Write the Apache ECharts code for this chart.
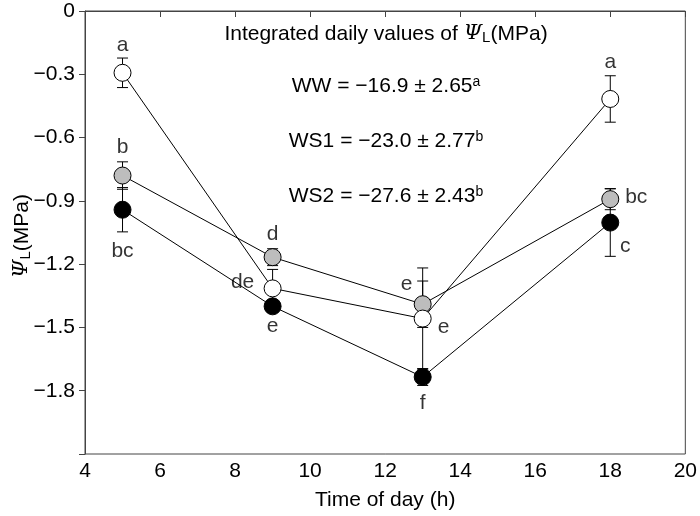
<!DOCTYPE html>
<html><head><meta charset="utf-8">
<script src="https://cdn.jsdelivr.net/npm/echarts@6/dist/echarts.min.js"></script>
<style>html,body{margin:0;padding:0;background:#fff}#c{width:700px;height:516px}</style>
</head><body><div id="c"></div>
<script>
// ---- data ----
const hours = [5, 9, 13, 18];
const wwMean = [-0.293, -1.315, -1.458, -0.417];
const wwSE = [0.07, 0.09, 0.24, 0.11];
const ws1Mean = [-0.78, -1.167, -1.39, -0.892];
const ws1SE = [0.065, 0.04, 0.11, 0.05];
const ws2Mean = [-0.942, -1.40, -1.735, -1.003];
const ws2SE = [0.105, 0.02, 0.04, 0.16];
const wwLetters = ['a', 'de', 'e', 'a'];
const ws1Letters = ['b', 'd', 'e', 'bc'];
const ws2Letters = ['bc', 'e', 'f', 'c'];
const xTicks = [4, 6, 8, 10, 12, 14, 16, 18, 20];
const yTicks = [0, -0.3, -0.6, -0.9, -1.2, -1.5, -1.8, -2.1];
const integrated = [['WW', '\u221216.9', '2.65', 'a'], ['WS1', '\u221223.0', '2.77', 'b'], ['WS2', '\u221227.6', '2.43', 'b']];

// ---- label placement (pixel offsets from marker centre) ----
const wwOff = [[0, -28], [-30, -6], [21, 9], [0, -37]];
const ws1Off = [[0, -28], [0, -23], [-16, -20], [26, -2]];
const ws2Off = [[0, 41], [0, 20], [0, 26], [15, 24]];

const FONT = 'Liberation Sans, Arial, sans-serif';
const FS = 21;
const chart = echarts.init(document.getElementById('c'));

function pts(m) { return hours.map((h, i) => [h, m[i]]); }
function errs(m, se) { return hours.map((h, i) => [h, m[i] - se[i], m[i] + se[i]]); }
function letters(m, L, off) {
  return hours.map((h, i) => ({
    value: [h, m[i]],
    label: { formatter: L[i], offset: off[i] }
  }));
}
function fmt(v) {
  const r = Math.round(v * 10) / 10;
  if (r === 0) return '0';
  return (r < 0 ? '\u2212' : '') + Math.abs(r).toFixed(1);
}
function errSeries(m, se) {
  return {
    type: 'custom', z: 2, silent: true,
    data: errs(m, se),
    renderItem: function (params, api) {
      const x = api.value(0);
      const lo = api.coord([x, api.value(1)]);
      const hi = api.coord([x, api.value(2)]);
      const w = 5.5;
      return {
        type: 'group', children: [
          { type: 'line', shape: { x1: lo[0], y1: lo[1], x2: hi[0], y2: hi[1] }, style: { stroke: '#000', lineWidth: 1 } },
          { type: 'line', shape: { x1: lo[0] - w, y1: lo[1], x2: lo[0] + w, y2: lo[1] }, style: { stroke: '#000', lineWidth: 1 } },
          { type: 'line', shape: { x1: hi[0] - w, y1: hi[1], x2: hi[0] + w, y2: hi[1] }, style: { stroke: '#000', lineWidth: 1 } }
        ]
      };
    }
  };
}
function lineSeries(m) {
  return { type: 'line', z: 3, silent: true, symbol: 'none', data: pts(m), lineStyle: { color: '#000', width: 1 } };
}
function markSeries(m, fill) {
  return {
    type: 'scatter', z: 5, silent: true, symbol: 'circle', symbolSize: 17, data: pts(m),
    itemStyle: { color: fill, borderColor: '#000', borderWidth: 1, opacity: 1 }
  };
}
function letterSeries(m, L, off) {
  return {
    type: 'scatter', z: 6, silent: true, symbolSize: 0, data: letters(m, L, off),
    label: { show: true, position: 'inside', color: '#000', fontSize: FS, fontFamily: FONT }
  };
}

const sub = { fontSize: 15, fontFamily: FONT, padding: [8, 0, 0, 0], color: '#000' };
const psi = { fontSize: FS, fontFamily: 'DejaVu Serif, serif', fontStyle: 'italic', color: '#000' };
const base = { fontSize: FS, fontFamily: FONT, color: '#000' };
const sup = { fontSize: 14, fontFamily: FONT, padding: [0, 0, 7, 0], color: '#000' };

const graphics = [
  {
    type: 'text', x: 386, y: 34, z: 10,
    style: { text: '{b|Integrated daily values of }{p|\u03A8}{s|L}{b|(MPa)}', rich: { b: base, p: psi, s: sub }, align: 'center', verticalAlign: 'middle' }
  }
];
const rowsY = [86, 141, 196];
integrated.forEach((r, i) => {
  graphics.push({
    type: 'text', z: 10, x: 386, y: rowsY[i],
    style: { text: '{b|' + r[0] + ' = ' + r[1] + ' \u00B1 ' + r[2] + '}{u|' + r[3] + '}', rich: { b: base, u: sup }, align: 'center', verticalAlign: 'middle' }
  });
});
graphics.push({
  type: 'text', z: 10, rotation: Math.PI / 2, x: 22, y: 236,
  style: { text: '{p|\u03A8}{s|L}{b|(MPa)}', rich: { b: base, p: psi, s: sub }, align: 'center', verticalAlign: 'middle' }
});

chart.setOption({
  animation: false,
  grid: { left: 85, right: 14, top: 11, bottom: 50, show: true, borderColor: '#444', borderWidth: 1, backgroundColor: 'transparent' },
  xAxis: {
    type: 'value', min: xTicks[0], max: xTicks[xTicks.length - 1], interval: 2,
    name: 'Time of day (h)', nameLocation: 'middle', nameGap: 36,
    nameTextStyle: { fontSize: FS, fontFamily: FONT, color: '#000' },
    axisLine: { show: true, lineStyle: { color: '#444', width: 1 } },
    axisTick: { show: true, inside: false, length: 6, lineStyle: { color: '#444' } },
    axisLabel: { fontSize: FS, fontFamily: FONT, color: '#000', margin: 7 },
    splitLine: { show: false }
  },
  yAxis: {
    type: 'value', min: yTicks[yTicks.length - 1], max: yTicks[0], interval: 0.3,
    axisLine: { show: true, lineStyle: { color: '#444', width: 1 } },
    axisTick: { show: true, inside: false, length: 6, lineStyle: { color: '#444' } },
    axisLabel: {
      fontSize: FS, fontFamily: FONT, color: '#000', margin: 10,
      formatter: function (v) { return Math.round(v * 10) / 10 === -2.1 ? '' : fmt(v); }
    },
    splitLine: { show: false }
  },
  graphic: graphics,
  series: [
    errSeries(wwMean, wwSE), errSeries(ws1Mean, ws1SE), errSeries(ws2Mean, ws2SE),
    lineSeries(wwMean), lineSeries(ws1Mean), lineSeries(ws2Mean),
    markSeries(ws2Mean, '#000'), markSeries(ws1Mean, '#bdbdbd'), markSeries(wwMean, '#fff'),
    letterSeries(wwMean, wwLetters, wwOff), letterSeries(ws1Mean, ws1Letters, ws1Off), letterSeries(ws2Mean, ws2Letters, ws2Off)
  ]
});
</script></body></html>
